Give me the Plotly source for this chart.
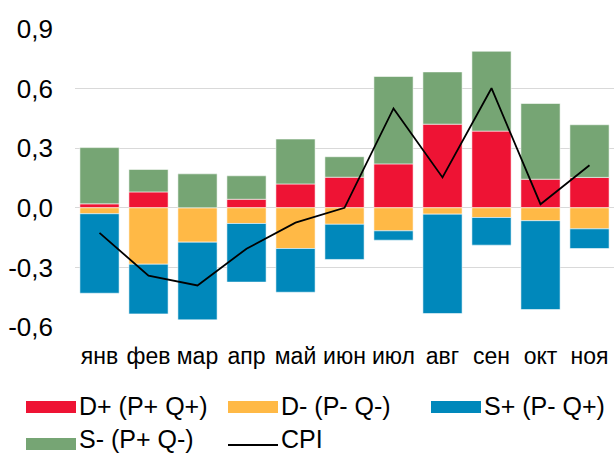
import plotly.graph_objects as go

months = ["янв", "фев", "мар", "апр", "май", "июн", "июл", "авг", "сен", "окт", "ноя"]

d_plus = [0.02, 0.08, 0.00, 0.043, 0.12, 0.154, 0.221, 0.421, 0.386, 0.144, 0.153]
d_minus = [-0.03, -0.284, -0.173, -0.079, -0.205, -0.083, -0.116, -0.032, -0.049, -0.065, -0.106]
s_plus = [-0.40, -0.25, -0.391, -0.295, -0.22, -0.177, -0.047, -0.50, -0.139, -0.447, -0.099]
s_minus = [0.283, 0.113, 0.171, 0.118, 0.226, 0.103, 0.44, 0.263, 0.402, 0.381, 0.265]
cpi = [-0.126, -0.342, -0.391, -0.206, -0.075, 0.0, 0.50, 0.153, 0.602, 0.018, 0.214]

series_names = ["D+ (P+ Q+)", "D- (P- Q-)", "S+ (P- Q+)", "S- (P+ Q-)", "CPI"]
series_colors = ["#EE1334", "#FFB946", "#0088BB", "#76A574", "#000000"]

y_ticks = [-0.6, -0.3, 0.0, 0.3, 0.6, 0.9]
y_tick_text = ["-0,6", "-0,3", "0,0", "0,3", "0,6", "0,9"]

W, H = 615, 454
L, R, T, B = 75, 1, 29, 127
PW, PH = W - L - R, H - T - B

font_family = "Liberation Sans, Arial, sans-serif"

fig = go.Figure()
for vals, name, color in zip([d_plus, d_minus, s_plus, s_minus], series_names[:4], series_colors[:4]):
    fig.add_trace(go.Bar(
        x=months, y=vals, name=name,
        marker=dict(color=color, line=dict(color="rgba(255,255,255,0.55)", width=1)),
        showlegend=False,
    ))
fig.add_trace(go.Scatter(
    x=months, y=cpi, name=series_names[4], mode="lines",
    line=dict(color="#000000", width=1.8), showlegend=False,
))


def px_x(px):
    return (px - L) / PW


def px_y(py):
    return (H - B - py) / PH


# legend drawn as swatches and labels below the plot
legend_items = [
    (0, 26, 407, 406, "bar"), (1, 228, 407, 406, "bar"), (2, 431, 407, 406, "bar"),
    (3, 26, 444, 439, "bar"), (4, 228, 445, 439, "line"),
]
shapes = []
annotations = []
for idx, x0, yc, ytext, kind in legend_items:
    if kind == "bar":
        shapes.append(dict(type="rect", xref="paper", yref="paper",
                           x0=px_x(x0), x1=px_x(x0 + 50), y0=px_y(yc - 6), y1=px_y(yc + 6),
                           fillcolor=series_colors[idx], line=dict(width=0)))
    else:
        shapes.append(dict(type="line", xref="paper", yref="paper",
                           x0=px_x(x0), x1=px_x(x0 + 50), y0=px_y(yc), y1=px_y(yc),
                           line=dict(color=series_colors[idx], width=1.8)))
    annotations.append(dict(text=series_names[idx], xref="paper", yref="paper",
                            x=px_x(x0 + 52), y=px_y(ytext), xanchor="left", yanchor="middle",
                            showarrow=False, borderpad=0,
                            font=dict(size=25, color="#000000", family=font_family)))

fig.update_layout(
    width=W, height=H,
    margin=dict(l=L, r=R, t=T, b=B, pad=0),
    barmode="relative", bargap=0.2,
    plot_bgcolor="white", paper_bgcolor="white",
    font=dict(family=font_family, size=22, color="#000000"),
    shapes=shapes, annotations=annotations,
    showlegend=False,
)
fig.update_xaxes(
    showgrid=False, showline=False, zeroline=False,
    tickfont=dict(size=23), ticks="", ticklabelstandoff=13,
)
fig.update_yaxes(
    range=[-0.6, 0.9], tickvals=y_ticks, ticktext=y_tick_text,
    showgrid=True, gridcolor="#D9D9D9", gridwidth=1.2,
    zeroline=True, zerolinecolor="#D9D9D9", zerolinewidth=1.2,
    showline=False, ticks="", ticklabelstandoff=21,
    tickfont=dict(size=26),
)

fig.write_html("out.html")
